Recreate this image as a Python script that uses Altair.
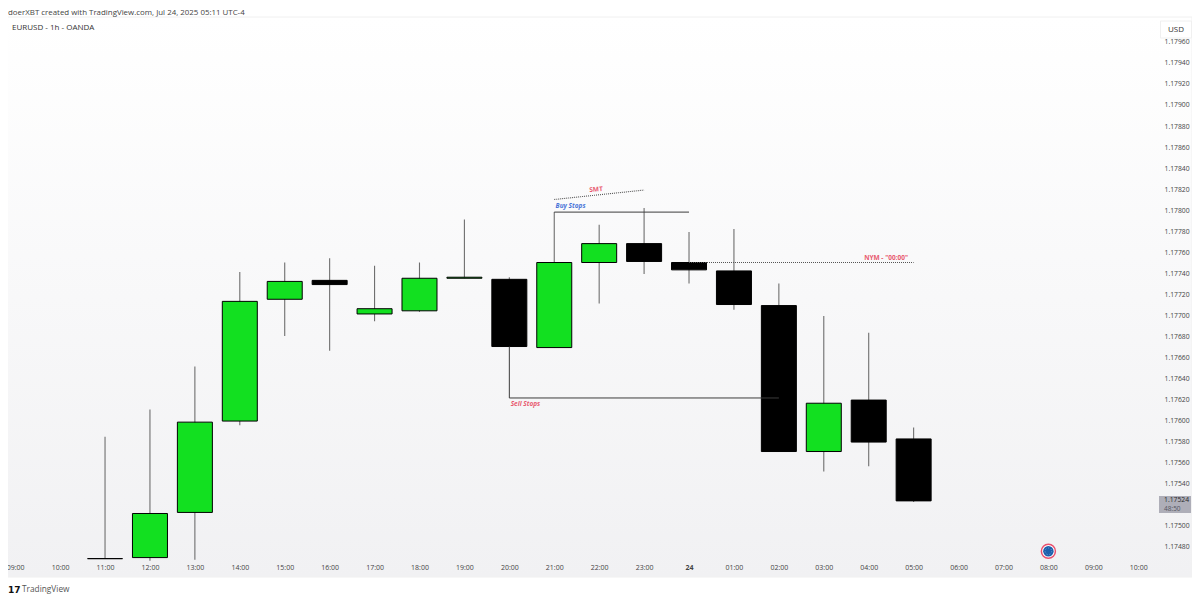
import altair as alt
import pandas as pd

# ---- candle data; hour counted from Jul 23 00:00 ----
hours = list(range(11, 30))
opens = [1.17468, 1.17469, 1.17512, 1.17599, 1.17715, 1.17733, 1.17701, 1.17704, 1.17735, 1.17734,
         1.17669, 1.17750, 1.17768, 1.17750, 1.17742, 1.17709, 1.17570, 1.17619, 1.17582]
closes = [1.17468, 1.17511, 1.17598, 1.17713, 1.17732, 1.17729, 1.17706, 1.17735, 1.17736, 1.17670,
          1.17750, 1.17768, 1.17751, 1.17743, 1.17710, 1.17570, 1.17616, 1.17579, 1.17523]
highs = [1.17584, 1.17610, 1.17651, 1.17741, 1.17750, 1.17754, 1.17747, 1.17750, 1.17791, 1.17736,
         1.17798, 1.17786, 1.17802, 1.17779, 1.17782, 1.17730, 1.17699, 1.17683, 1.17593]
lows = [1.17468, 1.17466, 1.17467, 1.17595, 1.17680, 1.17666, 1.17694, 1.17703, 1.17735, 1.17670,
        1.17669, 1.17711, 1.17739, 1.17730, 1.17705, 1.17570, 1.17551, 1.17556, 1.17522]
directions = ["down", "up", "up", "up", "up", "down", "up", "up", "up", "down",
              "up", "up", "down", "down", "down", "down", "up", "down", "down"]

# 1.1752 is hidden behind the current-price tag in the reference
price_ticks = [1.1748, 1.1750, 1.1754, 1.1756, 1.1758, 1.1760, 1.1762, 1.1764, 1.1766, 1.1768, 1.1770,
               1.1772, 1.1774, 1.1776, 1.1778, 1.1780, 1.1782, 1.1784, 1.1786, 1.1788, 1.1790, 1.1792,
               1.1794, 1.1796]
hour_ticks = list(range(9, 35))

# ---- drawn annotations ----
solid_x = [21, 20, 20]
solid_x2 = [24, 20, 26]
solid_y = [1.17798, 1.17670, 1.17621]
solid_y2 = [1.17798, 1.17621, 1.17621]

dotted_x = [21, 24]
dotted_x2 = [23, 29]
dotted_y = [1.17810, 1.17750]
dotted_y2 = [1.17819, 1.17750]

note_text = ["SMT", "Buy Stops", "Sell Stops", 'NYM - "00:00"']
note_x = [21.78, 21.03, 20.03, 27.9]
note_y = [1.17819, 1.17804, 1.17615, 1.17754]
note_color = ["#e85a70", "#4a74d8", "#e85a70", "#e85a70"]
note_angle = [355, 0, 0, 0]

event_time = [32]
event_price = [1.17475]

W, H = 1150, 545
FULL_W, FULL_H = 1184, 560
FONT = "Open Sans"

candles = pd.DataFrame({"t": hours, "o": opens, "c": closes, "h": highs, "l": lows, "dir": directions})
solid = pd.DataFrame({"x": solid_x, "x2": solid_x2, "y": solid_y, "y2": solid_y2})
dotted = pd.DataFrame({"x": dotted_x, "x2": dotted_x2, "y": dotted_y, "y2": dotted_y2})
notes = pd.DataFrame({"t": note_x, "p": note_y, "s": note_text, "col": note_color, "ang": note_angle})
event = pd.DataFrame({"t": event_time, "p": event_price})

xscale = alt.Scale(domain=[8.84, 34.44], nice=False, zero=False, padding=0)
yscale = alt.Scale(domain=[1.174648, 1.179838], nice=False, zero=False)
xaxis = alt.Axis(
    orient="bottom", grid=False, domain=False, ticks=False, labelPadding=1, title=None, zindex=1,
    values=hour_ticks,
    labelExpr="datum.value==24 ? '24' : pad(datum.value % 24, 2, '0', 'left') + ':00'",
    labelFontWeight={"condition": {"test": "datum.value==24", "value": "bold"}, "value": "normal"},
    labelFont=FONT, labelFontSize=7, labelColor="#444444", labelOverlap=False, labelFlush=False,
    labelBound=False)
yaxis = alt.Axis(
    orient="right", grid=False, domain=False, ticks=False, labelPadding=6, title=None, zindex=1,
    values=price_ticks, format=".5f", labelFont=FONT, labelFontSize=6.8,
    labelColor="#444444", labelOverlap=False, labelBound=False, labelFlush=False)
X = alt.X("t:Q", scale=xscale, axis=xaxis)
Y = alt.Y("p:Q", scale=yscale, axis=yaxis)
one = pd.DataFrame({"k": [0]})


def label(text, x, y, size=7, color="#333333", weight="normal", align="left", font=FONT):
    return alt.Chart(one).mark_text(text=text, fontSize=size, color=color, fontWeight=weight,
                                    align=align, baseline="middle", font=font).encode(
        x=alt.value(x), y=alt.value(y))


def box(x, x2, y, y2, fill, stroke=None):
    kw = {"stroke": stroke, "strokeWidth": 1} if stroke else {}
    return alt.Chart(one).mark_rect(fill=fill, **kw).encode(
        x=alt.value(x), x2=alt.value(x2), y=alt.value(y), y2=alt.value(y2))


background = alt.Chart(one).mark_rect(
    stroke="#f0f0f0", strokeWidth=1,
    fill=alt.Gradient(gradient="linear", x1=0, y1=0, x2=0, y2=1,
                      stops=[alt.GradientStop(offset=0, color="#ffffff"),
                             alt.GradientStop(offset=1, color="#f1f1f3")])
).encode(x=alt.value(-1), x2=alt.value(FULL_W), y=alt.value(0), y2=alt.value(FULL_H))

wicks = alt.Chart(candles).mark_rule(color="#6e6e6e", strokeWidth=1.1).encode(
    x=X,
    y=alt.Y("h:Q", scale=yscale, axis=yaxis),
    y2="l:Q")

bodies = alt.Chart(candles).mark_bar(size=35, stroke="#000000", strokeWidth=1).encode(
    x=X,
    y=alt.Y("o:Q", scale=yscale, axis=yaxis),
    y2="c:Q",
    color=alt.Color("dir:N", legend=None,
                    scale=alt.Scale(domain=["up", "down"], range=["#12e020", "#000000"])))

solid_lines = alt.Chart(solid).mark_rule(color="#3c3c3c", strokeWidth=1).encode(
    x=alt.X("x:Q", scale=xscale, axis=xaxis), x2="x2:Q",
    y=alt.Y("y:Q", scale=yscale, axis=yaxis), y2="y2:Q")

dotted_lines = alt.Chart(dotted).mark_rule(color="#555555", strokeWidth=1.1, strokeDash=[1, 1]).encode(
    x=alt.X("x:Q", scale=xscale, axis=xaxis), x2="x2:Q",
    y=alt.Y("y:Q", scale=yscale, axis=yaxis), y2="y2:Q")

note_layers = []
for row in notes.itertuples():
    italic = "Stops" in row.s
    note_layers.append(
        alt.Chart(pd.DataFrame([{"t": row.t, "p": row.p, "s": row.s}])).mark_text(
            align="left", baseline="middle", fontSize=6.5, fontWeight="bold", font=FONT,
            fontStyle="italic" if italic else "normal", color=row.col, angle=row.ang
        ).encode(x=X, y=Y, text="s:N"))

ring = alt.Chart(event).mark_point(shape="circle", size=196, filled=True, fill="#ffffff",
                                   stroke="#e8506e", strokeWidth=1.5, opacity=1).encode(x=X, y=Y)
disc = alt.Chart(event).mark_point(shape="circle", size=110, filled=True, fill="#1c5fac",
                                   strokeWidth=0, opacity=1).encode(x=X, y=Y)
stars = alt.Chart(event).mark_point(shape="circle", size=44, filled=False, stroke="#7fa6d6",
                                    strokeWidth=1, strokeDash=[1, 2], opacity=1).encode(x=X, y=Y)

chart = alt.layer(
    background, wicks, bodies, solid_lines, dotted_lines, *note_layers, ring, disc, stars,
    box(W + 2.5, W + 33.5, 4, 21, "#ffffff", "#f0f0f0"),
    label("USD", W + 18, 13, size=8, align="center"),
    box(W + 1, W + 33, 479, 496, "#aeaeb8"),
    label("1.17524", W + 6, 482.5, size=6.8, color="#2a2a2a"),
    label("48:50", W + 6, 491.5, size=6.5, color="#55555f"),
    label("EURUSD - 1h - OANDA", 4, 11, size=8),
    label("doerXBT created with TradingView.com, Jul 24, 2025 05:11 UTC-4", 0, -4.3, size=7.9, color="#444444"),
    label("17", 0, 573, size=9, color="#111111", weight="bold", font="DejaVu Sans"),
    label("TradingView", 14, 572.5, size=8.3, color="#555555"),
).properties(
    width=W, height=H,
    autosize=alt.AutoSizeParams(type="none"),
    padding={"left": 0, "top": 9, "right": FULL_W - W, "bottom": 586 - 9 - H},
    background="#ffffff",
).configure_view(stroke=None)

chart.save("out.html", embed_options={"renderer": "svg", "actions": False})
